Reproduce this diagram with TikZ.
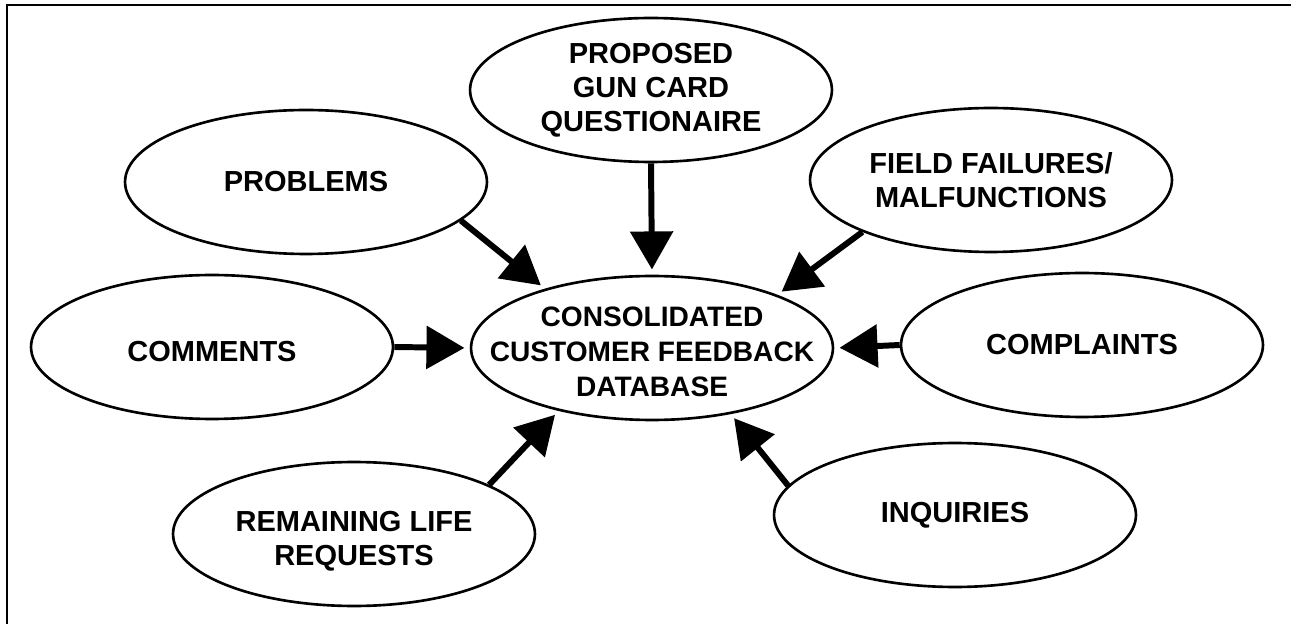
\documentclass[tikz,border=0pt]{standalone}
\usepackage{fontspec}
\setmainfont{Liberation Sans}
\usepackage{tikz}
\usetikzlibrary{arrows.meta}
\usetikzlibrary{shapes.geometric}

\begin{document}
\begin{tikzpicture}[x=0.02cm, y=-0.02cm,
    bulle/.style={ellipse, draw, line width=1.5pt, minimum width=7.24cm, minimum height=2.88cm, inner sep=0pt},
    texte/.style={align=center, inner sep=0pt, font=\fontsize{16.5}{19.5}\selectfont\bfseries},
    fleche/.style={line width=3.4pt, -{Triangle[length=0.76cm, width=0.84cm]}, shorten >=3pt}]
    \useasboundingbox (0,0) rectangle (1291,624);

    % Cadre
    \draw[line width=0.6pt] (7,624) -- (7,5) -- (1291,5);

    % Ellipse centrale
    \node[bulle, label={[texte, font=\fontsize{16}{19.8}\selectfont\bfseries, yshift=-0.08cm]center:{CONSOLIDATED\\CUSTOMER FEEDBACK\\DATABASE}}] (DB) at (652,348) {};

    % Ellipses autour
    \node[bulle, label={[texte]center:{PROPOSED\\GUN CARD\\QUESTIONAIRE}}] (GC) at (651,90) {};
    \node[bulle, label={[texte]center:PROBLEMS}] (PB) at (306,182) {};
    \node[bulle, label={[texte]center:{FIELD FAILURES/\\MALFUNCTIONS}}] (FF) at (991,180) {};
    \node[bulle, label={[texte, yshift=-0.1cm]center:COMMENTS}] (CM) at (212,347) {};
    \node[bulle, label={[texte]center:COMPLAINTS}] (CP) at (1082,345) {};
    \node[bulle, label={[texte, yshift=-0.14cm]center:{REMAINING LIFE\\REQUESTS}}] (RL) at (354,534) {};
    \node[bulle, label={[texte]center:INQUIRIES}] (IQ) at (955,515) {};

    % Fleches vers la base
    \draw[fleche] (GC.south) -- (DB.north);
    \draw[fleche] (PB.-14) -- (DB.151);
    \draw[fleche] (FF.202) -- (DB.23);
    \draw[fleche] (CM.east) -- (DB.west);
    \draw[fleche] (CP.west) -- (DB.east);
    \draw[fleche] (RL.20) -- (DB.214);
    \draw[fleche] (IQ.170) -- (DB.320);
\end{tikzpicture}
\end{document}
